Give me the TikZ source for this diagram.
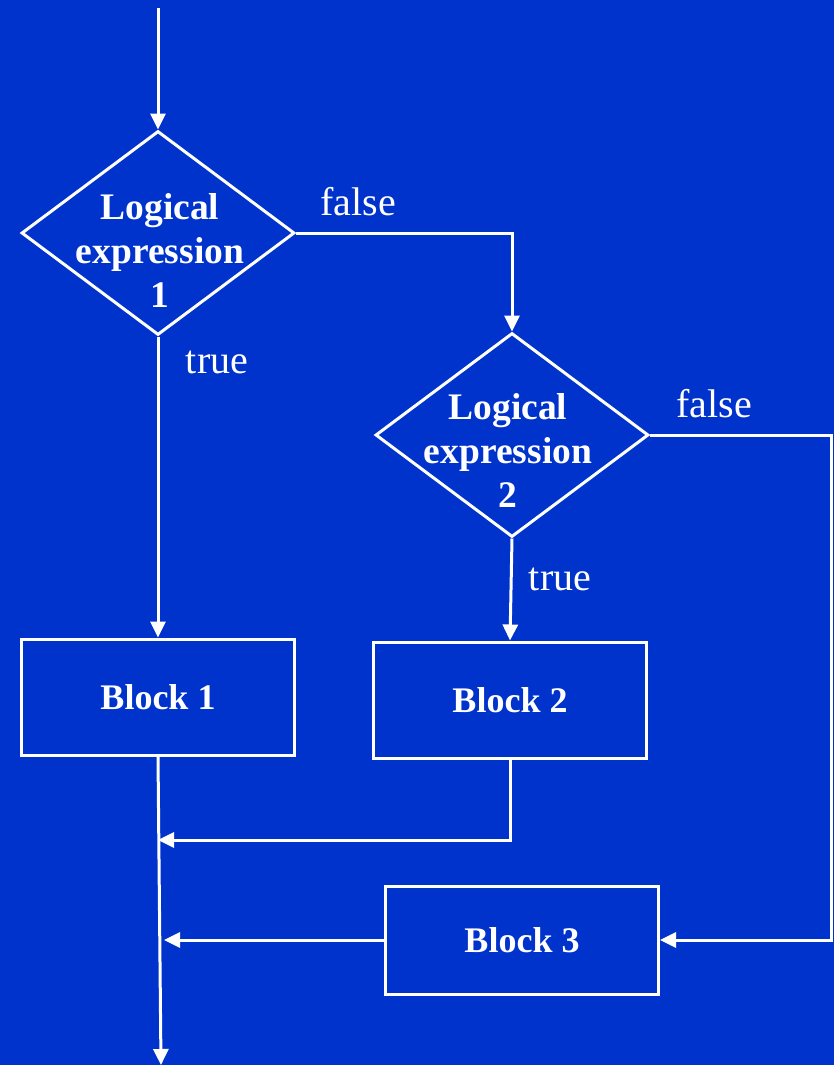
\documentclass[tikz,border=0pt]{standalone}
\usepackage{fontspec}
\setmainfont{Liberation Serif}
\usetikzlibrary{shapes.geometric,arrows.meta}
\definecolor{slide}{RGB}{0,51,204}
\tikzset{
  flow/.style={draw=white, line width=3pt},
  arr/.style={flow, -{Triangle[length=16pt,width=15pt]}},
  decision/.style={draw=white, line width=3pt, shape=diamond, inner sep=0pt,
    minimum width=273pt, minimum height=204pt},
  dtext/.style={text=white, align=center, font=\fontsize{37.5}{44}\selectfont\bfseries, inner sep=0pt},
  blockbox/.style={draw=white, line width=3pt, minimum width=273pt, minimum height=116pt,
    text=white, font=\fontsize{36}{44}\selectfont\bfseries, inner sep=0pt},
  lbl/.style={text=white, font=\fontsize{40}{48}\selectfont, inner sep=0pt}
}
\begin{document}
\begin{tikzpicture}[x=1pt,y=-1pt]
\fill[slide] (0,0) rectangle (834,1065);
\useasboundingbox (0,0) rectangle (834,1065);

% decisions
\node[decision] (d1) at (158,233) {};
\node[dtext] (t1) at ([xshift=2pt,yshift=-17pt]d1.center) {Logical\\expression\\1};
\node[decision] (d2) at (512,435) {};
\node[dtext] (t2) at ([xshift=-4pt,yshift=-15pt]d2.center) {Logical\\expression\\2};

% blocks
\node[blockbox] (b1) at (158,697) {Block 1};
\node[blockbox] (b2) at (510,700) {Block 2};
\node[blockbox, minimum height=108pt] (b3) at (522,940) {Block 3};

% free ends and corners
\coordinate (start) at (158,8);
\coordinate (fc) at (512,233);
\coordinate (rc) at (831,435);
\coordinate (rb) at (831,940);
\coordinate (mc) at (510,840);
\coordinate (m1) at (158,840);
\coordinate (m2) at (164,940);
\coordinate (end) at (161,1065);

% connectors
\draw[arr] (start) -- (d1.north);
\draw[arr] (d1.east) -- (fc) -- (d2.north);
\draw[arr] (d1.south) -- (b1.north);
\draw[arr] (d2.south) -- (b2.north);
\draw[arr] (d2.east) -- (rc) -- (rb) -- (b3.east);
\draw[arr] (b2.south) -- (mc) -- (m1);
\draw[arr] (b3.west) -- (m2);
\draw[arr] (b1.south) -- (end);

% branch labels
\node[lbl] (f1) at (358,202) {false};
\node[lbl] (tr1) at (217,362) {true};
\node[lbl] (f2) at (714,404) {false};
\node[lbl] (tr2) at (560,579) {true};
\end{tikzpicture}
\end{document}
